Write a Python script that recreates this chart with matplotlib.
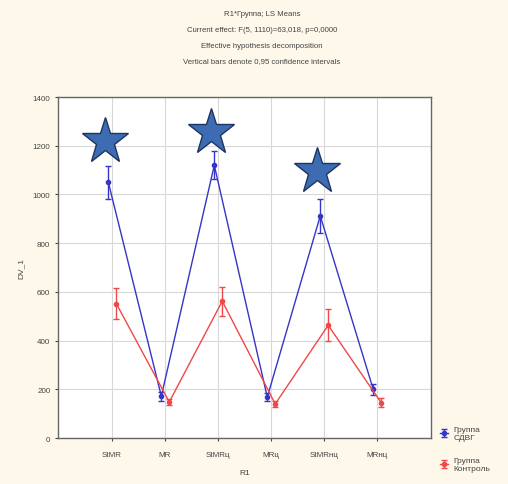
import matplotlib
matplotlib.use("Agg")
import matplotlib.pyplot as plt
import numpy as np

plt.rcParams['font.family'] = ['Liberation Sans', 'DejaVu Sans']

categories = ["StMR", "MR", "StMRц", "MRц", "StMRнц", "MRнц"]
adhd_mean = [1050, 172, 1120, 168, 912, 200]
adhd_err = [68, 18, 58, 16, 70, 22]
ctrl_mean = [552, 148, 562, 140, 463, 145]
ctrl_err = [65, 14, 60, 14, 65, 18]
series_labels = ["Группа\nСДВГ", "Группа\nКонтроль"]
star_cats = [0, 2, 4]
star_vals = [1218, 1255, 1095]
title_lines = ["R1*Группа; LS Means",
               "Current effect: F(5, 1110)=63,018, p=0,0000",
               "Effective hypothesis decomposition",
               "Vertical bars denote 0,95 confidence intervals"]

fig = plt.figure(figsize=(5.08, 4.85), dpi=100)
fig.patch.set_facecolor('#fdf8ea')
ax = fig.add_axes([0.1142, 0.0948, 0.7342, 0.703])
ax.set_facecolor('white')

x = np.arange(len(categories))
blue = '#3535c8'
red = '#f04848'
eb1 = ax.errorbar(x - 0.07, adhd_mean, yerr=adhd_err, color=blue, lw=1.0,
                  marker='o', ms=3, capsize=2.5, elinewidth=1.0, zorder=3)
eb2 = ax.errorbar(x + 0.08, ctrl_mean, yerr=ctrl_err, color=red, lw=1.0,
                  marker='o', ms=3, capsize=2.5, elinewidth=1.0, zorder=3)

ax.plot([x[i] - 0.13 for i in star_cats], star_vals, linestyle='none',
        marker='*', ms=35, markerfacecolor='#3d6cb2',
        markeredgecolor='#1d3560', markeredgewidth=1.0, zorder=4)

ax.set_xlim(-1.02, 6.02)
ax.set_ylim(0, 1400)
ax.set_xticks(x)
ax.set_xticklabels(categories)
ax.set_yticks(np.arange(0, 1401, 200))
ax.grid(True, color='#d8d8d8', lw=0.8)
ax.set_axisbelow(True)
ax.tick_params(labelsize=5.8, length=2, colors='#444444')
ax.tick_params(axis='x', pad=7)
for s in ax.spines.values():
    s.set_color('#666666')
    s.set_linewidth(1.0)

ax.set_xlabel("R1", fontsize=6, color='#444444', labelpad=8)
ax.set_ylabel("DV_1", fontsize=6, color='#444444', labelpad=6)

for i, t in enumerate(title_lines):
    fig.text(262 / 508, 1 - (15 + 15.5 * i) / 485, t, ha='center', va='center',
             fontsize=5.6, color='#444444')

fig.legend([eb1, eb2], series_labels, loc='upper left',
           bbox_to_anchor=(434 / 508, 1 - 421 / 485), frameon=False,
           fontsize=6, handlelength=1.0, handletextpad=0.6,
           labelspacing=1.9, borderpad=0.2, labelcolor='#444444')

fig.savefig("out.png", dpi=100, facecolor=fig.get_facecolor())
